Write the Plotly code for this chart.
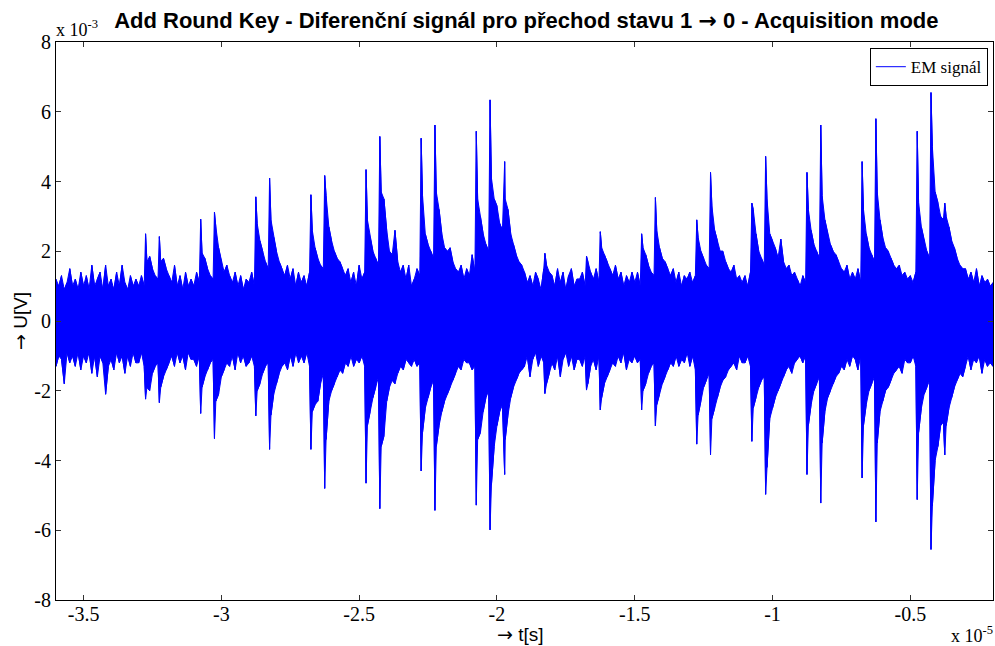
import numpy as np
import plotly.graph_objects as go

# time in units of 1e-5 s, voltage in units of 1e-3 V
grid_start = -3.60
grid_step = 0.01

# upper envelope of the signal, sampled every 0.01e-5 s from -3.60 to -0.20
u_top = [
    1.2, 1.0, 1.3, 0.9, 1.1, 1.5, 1.0, 1.2, 0.9, 1.4,   # -3.60
    1.0, 1.3, 0.9, 1.6, 1.0, 1.2, 1.4, 0.9, 1.6, 1.0,   # -3.50
    1.2, 0.9, 1.4, 1.0, 1.6, 1.1, 0.9, 1.3, 1.0, 1.2,   # -3.40
    1.0, 1.3, 1.0, 1.7, 1.85, 1.5, 1.3, 1.2, 1.7, 1.8,  # -3.30
    1.5, 1.3, 1.1, 1.6, 1.0, 1.3, 0.9, 1.4, 1.0, 1.2,   # -3.20
    1.0, 1.4, 1.1, 1.95, 1.8, 1.5, 1.3, 1.2, 2.7, 2.1,  # -3.10
    1.7, 1.4, 1.6, 1.3, 1.1, 1.4, 1.0, 1.3, 0.9, 1.2,   # -3.00
    1.1, 1.4, 1.0, 2.8, 2.3, 2.0, 1.7, 1.5, 2.9, 2.4,   # -2.90
    2.0, 1.7, 1.5, 1.3, 1.6, 1.2, 1.5, 1.0, 1.4, 1.1,   # -2.80
    1.3, 1.0, 1.4, 2.6, 2.1, 1.8, 1.6, 1.5, 3.6, 2.7,   # -2.70
    2.3, 2.0, 1.8, 1.7, 1.5, 1.3, 1.5, 1.1, 1.4, 1.0,   # -2.60
    1.6, 1.2, 1.4, 2.9, 2.4, 2.0, 1.8, 1.6, 3.7, 3.5,   # -2.50
    2.6, 2.0, 1.9, 2.6, 1.7, 1.4, 1.6, 1.2, 1.6, 1.0,   # -2.40
    1.2, 1.5, 1.3, 3.6, 2.5, 2.2, 2.0, 1.8, 3.7, 3.2,   # -2.30
    2.5, 2.1, 2.0, 2.1, 1.7, 1.5, 1.4, 1.6, 1.2, 1.5,   # -2.20
    1.3, 1.9, 1.4, 3.5, 3.0, 2.5, 2.2, 2.0, 4.1, 3.5,   # -2.10
    3.3, 2.8, 2.6, 3.5, 3.2, 2.5, 2.2, 1.9, 1.7, 1.6,   # -2.00
    1.4, 1.1, 1.3, 1.0, 1.4, 1.2, 0.9, 1.5, 1.6, 1.4,   # -1.90
    1.3, 1.0, 1.5, 1.1, 1.4, 0.9, 1.3, 1.5, 1.0, 1.2,   # -1.80
    1.2, 1.4, 1.0, 1.7, 1.4, 1.2, 1.5, 1.1, 2.1, 1.9,   # -1.70
    1.7, 1.5, 1.3, 1.6, 1.2, 1.4, 1.0, 1.3, 1.1, 1.4,   # -1.60
    1.1, 1.4, 1.0, 2.1, 1.9, 1.6, 1.4, 1.3, 2.6, 2.1,   # -1.50
    1.8, 1.7, 1.5, 1.3, 1.5, 1.1, 1.4, 1.0, 1.3, 1.2,   # -1.40
    1.4, 1.1, 1.3, 2.4, 2.0, 1.8, 1.6, 1.5, 3.3, 2.6,   # -1.30
    2.3, 2.0, 2.0, 1.7, 1.5, 1.4, 1.6, 1.2, 1.3, 1.1,   # -1.20
    1.3, 1.0, 1.4, 3.2, 2.5, 2.0, 1.8, 1.6, 3.5, 2.5,   # -1.10
    2.3, 2.1, 1.8, 2.35, 1.7, 1.5, 1.6, 1.3, 1.4, 1.2,  # -1.00
    1.0, 1.3, 1.1, 3.2, 2.6, 2.2, 2.0, 1.8, 3.6, 2.9,   # -0.90
    2.5, 2.2, 2.0, 1.9, 1.7, 1.5, 1.4, 1.6, 1.2, 1.4,   # -0.80
    1.2, 1.5, 1.1, 3.2, 2.5, 2.1, 1.9, 1.7, 3.7, 2.9,   # -0.70
    2.4, 2.1, 2.0, 1.8, 1.6, 1.5, 1.6, 1.3, 1.4, 1.2,   # -0.60
    1.3, 1.1, 1.4, 3.4, 2.7, 2.3, 2.0, 1.8, 5.0, 3.7,   # -0.50
    3.4, 3.0, 2.9, 3.0, 2.7, 2.3, 2.1, 1.8, 1.6, 1.5,   # -0.40
    1.5, 1.2, 1.4, 1.1, 1.5, 1.0, 1.3, 1.1, 1.2, 1.0, 1.1,  # -0.30 .. -0.20
]

# lower envelope of the signal on the same time samples
u_bot = [
    -1.3, -1.0, -1.1, -1.8, -0.9, -1.2, -1.0, -1.3, -0.9, -1.4,   # -3.60
    -1.0, -1.2, -0.9, -1.5, -1.0, -1.6, -1.0, -1.2, -2.1, -1.3,   # -3.50
    -1.1, -1.4, -0.9, -1.2, -1.0, -1.5, -1.0, -1.3, -0.9, -1.2,   # -3.40
    -1.2, -0.9, -1.3, -1.9, -2.0, -1.5, -1.3, -1.2, -1.9, -1.6,   # -3.30
    -1.4, -1.2, -1.0, -1.3, -0.9, -1.2, -1.0, -1.4, -0.9, -1.1,   # -3.20
    -1.1, -1.3, -1.0, -1.9, -1.6, -1.4, -1.2, -1.1, -2.3, -2.1,   # -3.10
    -1.6, -1.4, -1.2, -1.3, -1.0, -1.4, -0.9, -1.2, -1.0, -1.3,   # -3.00
    -1.2, -1.0, -1.3, -2.0, -1.8, -1.5, -1.3, -1.2, -2.7, -2.1,   # -2.90
    -1.8, -1.5, -1.3, -1.2, -1.4, -1.0, -1.3, -0.9, -1.2, -1.0,   # -2.80
    -1.2, -0.9, -1.3, -2.6, -2.4, -2.3, -1.8, -1.5, -3.4, -2.3,   # -2.70
    -2.0, -1.8, -1.6, -1.4, -1.5, -1.2, -1.3, -1.0, -1.3, -1.1,   # -2.60
    -1.2, -1.0, -1.3, -3.0, -2.6, -2.2, -1.9, -1.6, -3.6, -3.3,   # -2.50
    -2.3, -1.9, -1.7, -1.8, -1.5, -1.3, -1.4, -1.1, -1.2, -1.3,   # -2.40
    -1.1, -1.3, -1.2, -3.2, -2.5, -2.2, -1.9, -1.7, -3.6, -3.0,   # -2.30
    -2.6, -2.3, -2.1, -1.9, -1.7, -1.5, -1.3, -1.4, -1.1, -1.2,   # -2.20
    -1.2, -1.4, -1.3, -3.4, -3.2, -2.6, -2.2, -2.0, -4.7, -3.6,   # -2.10
    -3.0, -2.6, -2.4, -3.4, -2.7, -2.2, -1.9, -1.7, -1.5, -1.4,   # -2.00
    -1.3, -1.0, -1.6, -1.1, -0.9, -1.3, -1.0, -1.2, -1.8, -1.5,   # -1.90
    -1.2, -1.4, -1.0, -1.6, -1.1, -0.9, -1.3, -1.0, -1.4, -1.1,   # -1.80
    -1.1, -1.3, -1.0, -1.8, -1.3, -1.1, -1.4, -1.0, -2.2, -1.8,   # -1.70
    -1.6, -1.4, -1.2, -1.3, -1.0, -1.2, -0.9, -1.4, -1.1, -1.2,   # -1.60
    -1.0, -1.2, -1.1, -2.0, -1.8, -1.5, -1.3, -1.2, -2.4, -2.1,   # -1.50
    -1.8, -1.6, -1.4, -1.2, -1.3, -1.0, -1.3, -1.1, -1.2, -0.9,   # -1.40
    -1.3, -1.0, -1.4, -2.7, -2.3, -1.9, -1.7, -1.5, -2.8, -2.5,   # -1.30
    -2.2, -1.9, -1.7, -1.6, -1.4, -1.3, -1.2, -1.4, -1.0, -1.2,   # -1.20
    -1.2, -1.0, -1.3, -2.5, -2.2, -1.9, -1.7, -1.6, -4.2, -2.8,   # -1.10
    -2.5, -2.2, -2.0, -1.8, -1.6, -1.4, -1.3, -1.5, -1.2, -1.1,   # -1.00
    -1.0, -1.2, -1.0, -3.0, -2.4, -2.0, -1.8, -1.6, -3.5, -2.6,   # -0.90
    -2.2, -2.0, -1.8, -1.6, -1.5, -1.3, -1.4, -1.1, -1.3, -1.0,   # -0.80
    -1.1, -1.4, -1.0, -3.0, -2.4, -2.0, -1.8, -1.6, -3.5, -2.6,   # -0.70
    -2.3, -2.0, -1.9, -1.7, -1.5, -1.4, -1.3, -1.5, -1.1, -1.2,   # -0.60
    -1.2, -1.0, -1.3, -3.2, -2.5, -2.1, -1.9, -1.7, -5.3, -4.0,   # -0.50
    -3.6, -3.0, -2.9, -3.0, -2.5, -2.2, -1.9, -1.7, -1.5, -1.6,   # -0.40
    -1.3, -1.0, -1.4, -1.1, -1.2, -1.0, -1.5, -1.1, -1.3, -1.2, -1.3,  # -0.30 .. -0.20
]

# individual burst peaks (onset time, top, bottom)
peak_t = [-3.275, -3.225, -3.075, -3.025, -2.875, -2.825, -2.675, -2.625,
          -2.475, -2.425, -2.275, -2.225, -2.075, -2.025, -1.972, -1.826,
          -1.675, -1.625, -1.475, -1.425, -1.275, -1.225, -1.075, -1.025,
          -0.875, -0.825, -0.675, -0.625, -0.475, -0.425, -0.375]
peak_top = [2.5, 2.42, 2.92, 3.12, 3.56, 4.1, 3.62, 4.17,
            4.34, 5.29, 5.24, 5.62, 5.44, 6.34, 4.57, 1.94,
            1.86, 2.56, 2.5, 3.54, 2.9, 4.26, 3.38, 4.72,
            4.26, 5.62, 4.57, 5.8, 5.44, 6.55, 3.38]
peak_bot = [-2.24, -2.34, -2.65, -3.37, -2.72, -3.68, -3.68, -4.8,
            -4.65, -5.38, -4.3, -5.43, -5.28, -5.99, -4.4, -2.08,
            -1.98, -2.55, -2.55, -3.01, -3.53, -3.84, -3.45, -4.97,
            -4.4, -5.22, -4.5, -5.76, -5.12, -6.55, -3.84]

x_tick_vals = [-3.5, -3.0, -2.5, -2.0, -1.5, -1.0, -0.5]
x_tick_text = ["-3.5", "-3", "-2.5", "-2", "-1.5", "-1", "-0.5"]
y_tick_vals = [-8, -6, -4, -2, 0, 2, 4, 6, 8]
y_tick_text = ["-8", "-6", "-4", "-2", "0", "2", "4", "6", "8"]

# ---- assemble envelope (sorted by time) ----
t_grid = np.round(grid_start + grid_step * np.arange(len(u_top)), 4)
t_all = np.concatenate([t_grid, np.array(peak_t)])
top_all = np.concatenate([np.array(u_top), np.array(peak_top)])
bot_all = np.concatenate([np.array(u_bot), np.array(peak_bot)])
order = np.argsort(t_all, kind="stable")
t_all, top_all, bot_all = t_all[order], top_all[order], bot_all[order]

# filled body of the dense signal
poly_x = np.concatenate([t_all, t_all[::-1]])
poly_y = np.concatenate([top_all, bot_all[::-1]])

# vertical strokes of the signal (meander through the envelope)
mx, my = [], []
for i, (tt, a, b) in enumerate(zip(t_all, top_all, bot_all)):
    mx += [tt, tt]
    my += [a, b] if i % 2 == 0 else [b, a]

BLUE = "#0000FF"
SERIF = "Liberation Serif, DejaVu Serif, serif"
SANS = "Liberation Sans, Arial, sans-serif"
ARROW = '<span style="font-family:DejaVu Sans">→</span>'

fig = go.Figure()
fig.add_trace(go.Scatter(x=poly_x, y=poly_y, mode="lines", fill="toself",
                         fillcolor=BLUE, line=dict(color=BLUE, width=1),
                         showlegend=False, hoverinfo="skip"))
fig.add_trace(go.Scatter(x=mx, y=my, mode="lines", name="EM signál",
                         line=dict(color=BLUE, width=1)))

axis_common = dict(showline=True, linecolor="black", linewidth=1, mirror="ticks",
                   ticks="inside", ticklen=5, tickcolor="#333333", showgrid=False,
                   zeroline=False, automargin=False,
                   tickfont=dict(family=SERIF, size=20, color="black"))

fig.update_layout(
    width=995, height=646,
    margin=dict(l=56, r=2, t=42, b=46, autoexpand=False),
    paper_bgcolor="white", plot_bgcolor="white",
    title=dict(text="<b>Add Round Key - Diferenční signál pro přechod stavu 1 " + ARROW + " 0 - Acquisition mode</b>",
               font=dict(family=SANS, size=22, color="black"),
               x=0.529, xanchor="center", y=0.969, yanchor="middle"),
    xaxis=dict(range=[-3.6, -0.2], tickvals=x_tick_vals, ticktext=x_tick_text,
               ticklabelstandoff=-4, **axis_common),
    yaxis=dict(range=[-8, 8], tickvals=y_tick_vals, ticktext=y_tick_text, **axis_common),
    legend=dict(x=0.9945, y=0.989, xanchor="right", yanchor="top",
                bgcolor="white", bordercolor="black", borderwidth=1,
                font=dict(family=SERIF, size=17, color="black"),
                itemwidth=30, tracegroupgap=0),
    showlegend=True,
)

fig.add_annotation(text=ARROW + " t[s]", xref="paper", yref="paper", x=0.5, y=0.0,
                   xanchor="center", yanchor="middle", showarrow=False, yshift=-34, xshift=-4,
                   font=dict(family=SANS, size=19, color="black"))
fig.add_annotation(text=ARROW + " U[V]", xref="paper", yref="paper", x=0.0, y=0.5,
                   xanchor="center", yanchor="middle", showarrow=False, xshift=-36, textangle=-90,
                   font=dict(family=SANS, size=19, color="black"))
fig.add_annotation(text="x 10<sup>-3</sup>", xref="paper", yref="paper", x=0.0, y=1.0,
                   xanchor="left", yanchor="middle", showarrow=False, yshift=14, xshift=-2,
                   font=dict(family=SERIF, size=18, color="black"))
fig.add_annotation(text="x 10<sup>-5</sup>", xref="paper", yref="paper", x=1.0, y=0.0,
                   xanchor="right", yanchor="middle", showarrow=False, yshift=-34, xshift=2,
                   font=dict(family=SERIF, size=18, color="black"))

fig.write_html("out.html", config={"displayModeBar": False},
               post_script="document.body.style.margin='0';document.body.style.overflow='hidden';")
